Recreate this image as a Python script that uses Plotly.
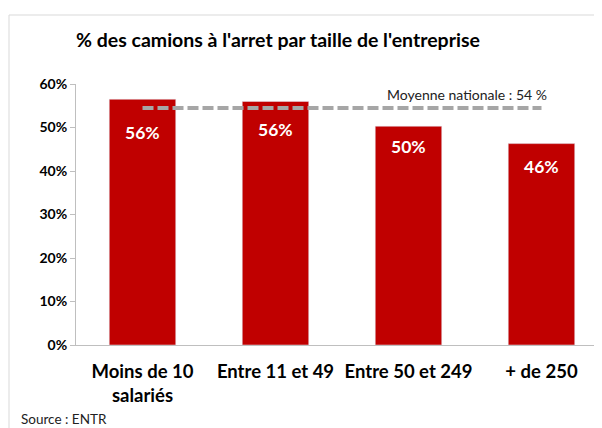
import plotly.graph_objects as go

categories = ["Moins de 10<br>salariés", "Entre 11 et 49", "Entre 50 et 249", "+ de 250"]
values = [56.5, 56.0, 50.3, 46.3]
value_labels = ["56%", "56%", "50%", "46%"]
national_avg = 54.5
avg_label = "Moyenne nationale : 54 %"
title = "% des camions à l'arret par taille de l'entreprise"
source = "Source : ENTR"
y_ticks = [0, 10, 20, 30, 40, 50, 60]
y_tick_labels = ["0%", "10%", "20%", "30%", "40%", "50%", "60%"]

label_shift = [-33, -28, -20, -23]

OFF = 8  # browser body margin
W, H = 602 - OFF, 428 - OFF
L, R, T, B = 76 - OFF, 0, 84 - OFF, 428 - 345
pw, ph = W - L - R, H - T - B

def px_to_paper_x(px):
    return (px - OFF - L) / pw

def px_to_paper_y(py):
    return (H - B - (py - OFF)) / ph

fig = go.Figure()
fig.add_trace(go.Bar(x=categories, y=values, marker_color="#C00000", width=0.5,
                     hoverinfo="skip", showlegend=False))
fig.add_trace(go.Scatter(x=[categories[0], categories[-1]], y=[national_avg, national_avg],
                         mode="lines", line=dict(color="#A6A6A6", width=4, dash="11px,4px"),
                         showlegend=False, hoverinfo="skip"))

font = "Lato, 'Open Sans', sans-serif"
annotations = []
for c, v, t, s in zip(categories, values, value_labels, label_shift):
    annotations.append(dict(x=c, y=v, text="<b>" + t + "</b>", showarrow=False,
                            yanchor="middle", yshift=s, font=dict(color="white", size=17.5, family=font)))
annotations.append(dict(x=px_to_paper_x(467), y=px_to_paper_y(94), xref="paper", yref="paper",
                        xanchor="center", yanchor="middle",
                        text=avg_label, showarrow=False, font=dict(size=14, color="#222", family=font)))
annotations.append(dict(x=px_to_paper_x(278), y=px_to_paper_y(39), xref="paper", yref="paper",
                        xanchor="center", yanchor="middle",
                        text="<b>" + title + "</b>", showarrow=False,
                        font=dict(size=19.5, color="black", family=font)))
annotations.append(dict(x=px_to_paper_x(19), y=px_to_paper_y(419), xref="paper", yref="paper",
                        xanchor="left", yanchor="middle",
                        text=source, showarrow=False,
                        font=dict(size=13.5, color="#222", family=font)))

fig.update_layout(
    width=W, height=H,
    margin=dict(l=L, r=R, t=T, b=B, pad=0, autoexpand=False),
    plot_bgcolor="white", paper_bgcolor="white",
    annotations=annotations,
    shapes=[dict(type="rect", xref="paper", yref="paper",
                 x0=px_to_paper_x(9), x1=px_to_paper_x(640),
                 y0=px_to_paper_y(460), y1=px_to_paper_y(15),
                 line=dict(color="#D9D9D9", width=1), layer="below")],
    bargap=0.5,
)
fig.update_xaxes(range=[-0.5, 3.455], showline=True, linecolor="#BFBFBF", linewidth=1,
                 ticks="", tickfont=dict(size=18.5, color="black", family=font),
                 showgrid=False, automargin=False, ticklabelstandoff=10)
fig.update_yaxes(range=[0, 60], tickvals=y_ticks, ticktext=["<b>" + t + "</b>" for t in y_tick_labels],
                 showline=True, linecolor="#BFBFBF", linewidth=1, ticks="outside",
                 ticklen=5, tickcolor="#BFBFBF", showgrid=False, zeroline=False,
                 tickfont=dict(size=14, color="black", family=font), automargin=False)
fig.for_each_xaxis(lambda a: a.update(tickvals=categories, ticktext=["<b>" + c + "</b>" for c in categories]))

fig.write_html("out.html")
